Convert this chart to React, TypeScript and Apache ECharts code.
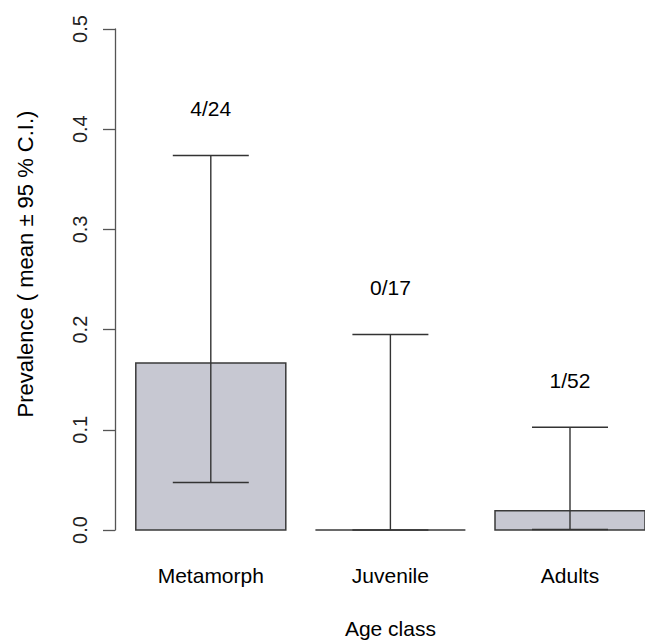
import React, { useEffect, useRef } from "react";
import * as echarts from "echarts";

const categories = ["Metamorph", "Juvenile", "Adults"];
const positives = [4, 0, 1];
const totals = [24, 17, 52];
const ciLower = [0.0474, 0, 0.0005];
const ciUpper = [0.3738, 0.1951, 0.1026];
const yMin = 0;
const yMax = 0.5;
const yInterval = 0.1;

const FONT = "'Liberation Sans', Arial, sans-serif";

export default function App() {
  const ref = useRef<HTMLDivElement>(null);
  useEffect(() => {
    if (!ref.current) return;
    const chart = echarts.init(ref.current, undefined, { renderer: "svg" });
    const data = categories.map((c, i) => [i, positives[i] / totals[i], ciLower[i], ciUpper[i]]);
    chart.setOption({
      animation: false,
      backgroundColor: "#ffffff",
      textStyle: { fontFamily: FONT },
      grid: { left: 121, top: 29, bottom: 114, width: 538.8, outerBoundsMode: "none", containLabel: false },
      xAxis: {
        type: "category",
        data: categories,
        boundaryGap: true,
        axisLine: { show: false },
        axisTick: { show: false },
        axisLabel: { margin: 35, fontSize: 21, color: "#000", fontFamily: FONT },
        name: "Age class",
        nameLocation: "middle",
        nameGap: 88,
        nameTextStyle: { fontSize: 21, color: "#000", fontFamily: FONT },
      },
      yAxis: {
        type: "value",
        min: yMin,
        max: yMax,
        interval: yInterval,
        offset: 6,
        splitLine: { show: false },
        axisLine: { show: true, lineStyle: { color: "#555", width: 1.3 } },
        axisTick: { show: true, length: 12, lineStyle: { color: "#555", width: 1.3 } },
        axisLabel: {
          rotate: 90,
          margin: 25,
          fontSize: 20,
          color: "#222",
          fontFamily: FONT,
          formatter: (v: number) => v.toFixed(1),
        },
      },
      graphic: [
        {
          type: "text",
          x: 25,
          y: 264,
          rotation: Math.PI / 2,
          style: {
            text: "Prevalence ( mean \u00b1 95 % C.I.)",
            fontSize: 22,
            fontFamily: FONT,
            fill: "#000",
            align: "center",
            verticalAlign: "middle",
          },
        },
      ],
      series: [
        {
          type: "custom",
          data,
          renderItem: (params: any, api: any) => {
            const i = api.value(0);
            const mean = api.value(1);
            const lo = api.value(2);
            const hi = api.value(3);
            const band = api.size([1, 0])[0];
            const bw = (band * 150) / 179.6;
            const ww = (band * 76) / 179.6;
            const pTop = api.coord([i, mean]);
            const pBase = api.coord([i, 0]);
            const pHi = api.coord([i, hi]);
            const pLo = api.coord([i, lo]);
            const cx = pTop[0];
            const idx = params.dataIndex;
            const lineStyle = { stroke: "#333", lineWidth: 1.4 };
            return {
              type: "group",
              children: [
                {
                  type: "polygon",
                  shape: {
                    points: [
                      [cx - bw / 2, pBase[1]],
                      [cx + bw / 2, pBase[1]],
                      [cx + bw / 2, pTop[1]],
                      [cx - bw / 2, pTop[1]],
                    ],
                  },
                  style: { fill: "#c7c8d2", stroke: "#3a3a3a", lineWidth: 1.5 },
                },
                { type: "line", shape: { x1: cx, y1: pHi[1], x2: cx, y2: pLo[1] }, style: lineStyle },
                { type: "line", shape: { x1: cx - ww / 2, y1: pHi[1], x2: cx + ww / 2, y2: pHi[1] }, style: lineStyle },
                { type: "line", shape: { x1: cx - ww / 2, y1: pLo[1], x2: cx + ww / 2, y2: pLo[1] }, style: lineStyle },
                {
                  type: "text",
                  style: {
                    text: `${positives[idx]}/${totals[idx]}`,
                    x: cx,
                    y: pHi[1] - 47,
                    align: "center",
                    verticalAlign: "middle",
                    fontSize: 21,
                    fontFamily: FONT,
                    fill: "#000",
                  },
                },
              ],
            };
          },
        },
      ],
    });
    return () => chart.dispose();
  }, []);
  return <div ref={ref} style={{ position: "fixed", left: 0, top: 0, width: 645, height: 644 }} />;
}
